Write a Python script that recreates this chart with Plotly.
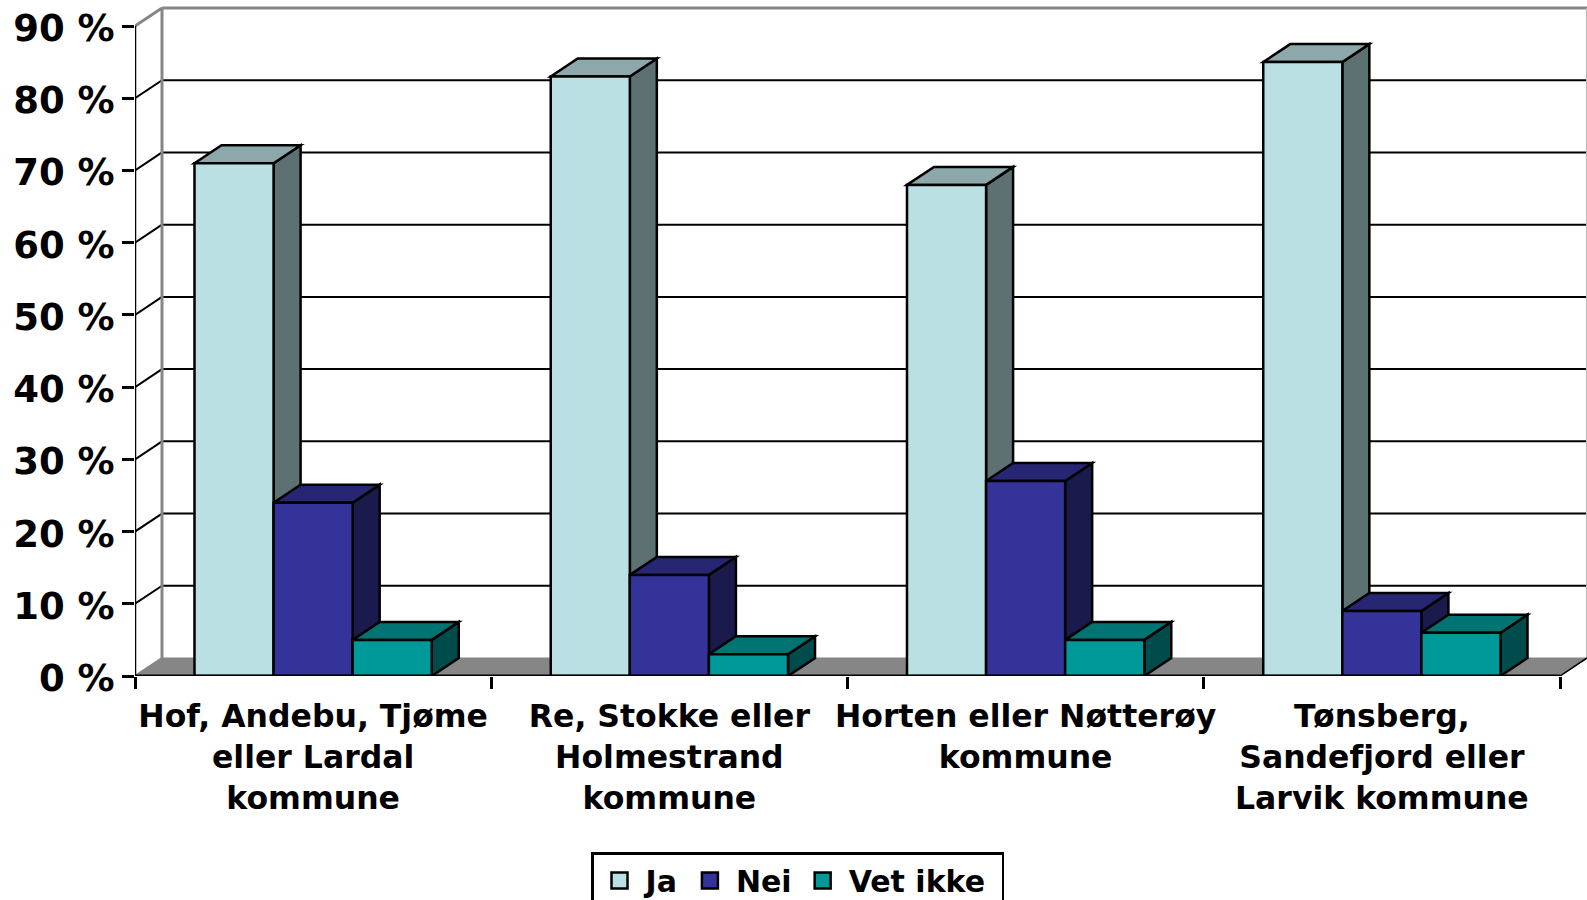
import plotly.graph_objects as go

# ---- data ----
CATEGORIES = ["Hof, Andebu, Tjøme<br>eller Lardal<br>kommune",
              "Re, Stokke eller<br>Holmestrand<br>kommune",
              "Horten eller Nøtterøy<br>kommune",
              "Tønsberg,<br>Sandefjord eller<br>Larvik kommune"]
JA = [71, 83, 68, 85]
NEI = [24, 14, 27, 9]
VET_IKKE = [5, 3, 5, 6]
Y_TICKS = [0, 10, 20, 30, 40, 50, 60, 70, 80, 90]
Y_LABELS = ["0 %", "10 %", "20 %", "30 %", "40 %", "50 %", "60 %", "70 %", "80 %", "90 %"]

NAMES = ["Ja", "Nei", "Vet ikke\u00a0"]
COLORS = [(186, 224, 227), (51, 51, 153), (0, 153, 153)]
SERIES = [JA, NEI, VET_IKKE]

# ---- 3-D look (depth of the box in axis units) ----
DX = 27 / 356.25
DY = 18 / 7.22
TOP_PAD = 4 / 7.22
BARGAP = 0.334
BAR_W = (1 - BARGAP) / 3
X_POS = [i + 0.5 for i in range(len(CATEGORIES))]
X_MAX = float(len(CATEGORIES))
Y_MAX = float(Y_TICKS[-1])
FONT = "DejaVu Sans"
WALL = "#868686"


def rgb(c, f=1.0):
    return "rgb(%d,%d,%d)" % tuple(round(v * f) for v in c)


def poly(pts, fill, line="black", width=2.5):
    path = "M " + " L ".join(f"{x},{y}" for x, y in pts) + " Z"
    return dict(type="path", path=path, fillcolor=fill, xref="x", yref="y", layer="between",
                line=dict(color=line, width=width))


def seg(x0, y0, x1, y1, color="black", width=2, layer="between"):
    return dict(type="line", x0=x0, y0=y0, x1=x1, y1=y1, xref="x", yref="y", layer=layer,
                line=dict(color=color, width=width))


shapes = []
# floor
shapes.append(poly([(0, 0), (DX, DY), (X_MAX + DX, DY), (X_MAX, 0)], WALL, line=WALL, width=1))
# back wall grid + diagonals at the left side wall
for t in Y_TICKS[1:-1]:
    shapes.append(seg(DX, t + DY, X_MAX + DX, t + DY))
for t in Y_TICKS[1:-1]:
    shapes.append(seg(0, t, DX, t + DY))
shapes.append(seg(DX, DY, DX, Y_MAX + DY, WALL, 3))
shapes.append(seg(DX, Y_MAX + DY, X_MAX + DX, Y_MAX + DY, WALL, 3))
shapes.append(seg(0, Y_MAX, DX, Y_MAX + DY, WALL, 3))
shapes.append(seg(X_MAX + DX, DY, X_MAX + DX, Y_MAX + DY, "#BBBBBB", 2))
shapes.append(seg(0, 0, DX, DY, WALL, 2))
shapes.append(seg(X_MAX, 0, X_MAX + DX, DY, "black", 1.5))

# side and top faces of every bar, back to front
for gi, xc in enumerate(X_POS):
    for si, vals in enumerate(SERIES):
        v = vals[gi]
        x0 = xc + (si - 1.5) * BAR_W
        x1 = x0 + BAR_W
        shapes.append(poly([(x1, 0), (x1 + DX, DY), (x1 + DX, v + DY), (x1, v)], rgb(COLORS[si], 0.5)))
        shapes.append(poly([(x0, v), (x0 + DX, v + DY), (x1 + DX, v + DY), (x1, v)], rgb(COLORS[si], 0.75)))

# front axis lines
shapes.append(seg(0, 0, 0, Y_MAX, "black", 2.5, "above"))
shapes.append(seg(0, 0, X_MAX, 0, "black", 3, "above"))

fig = go.Figure()
for name, vals, c in zip(NAMES, SERIES, COLORS):
    fig.add_trace(go.Bar(x=X_POS, y=vals, name=name.strip(),
                         marker=dict(color=rgb(c), line=dict(color="black", width=2.5)),
                         showlegend=False, cliponaxis=False))
for name, c in zip(NAMES, COLORS):
    fig.add_trace(go.Scatter(x=[None], y=[None], name=name, mode="markers",
                             marker=dict(symbol="square", size=16, color=rgb(c), line=dict(color="black", width=2.5))))

fig.update_layout(
    width=1587, height=900,
    margin=dict(l=135, r=0, t=4, b=224, autoexpand=False),
    paper_bgcolor="white", plot_bgcolor="white",
    barmode="group", bargap=BARGAP, bargroupgap=0,
    shapes=shapes,
    font=dict(family=FONT, color="black"),
    xaxis=dict(range=[0, X_MAX + DX], tickmode="array", tickvals=X_POS, ticktext=CATEGORIES,
               ticks="outside", ticklen=12, tickcolor="rgba(0,0,0,0)", showgrid=False, zeroline=False,
               showline=False, tickfont=dict(family=FONT, size=31.5, weight=700, color="black"),
               minor=dict(tickmode="array", tickvals=list(range(len(CATEGORIES) + 1)), ticks="outside",
                          ticklen=12, tickwidth=2.5, tickcolor="black", showgrid=False)),
    yaxis=dict(range=[0, Y_MAX + DY + TOP_PAD], tickmode="array", tickvals=Y_TICKS, ticktext=Y_LABELS,
               ticks="outside", ticklen=12, tickwidth=2.5, tickcolor="black", showgrid=False, zeroline=False,
               showline=False, ticklabelshift=2,
               tickfont=dict(family=FONT, size=37, weight=700, color="black")),
    legend=dict(orientation="h", x=(591 - 135) / 1452, xanchor="left", y=(676 - 852) / 672, yanchor="top",
                bgcolor="white", bordercolor="black", borderwidth=2.5, itemwidth=42,
                font=dict(family=FONT, size=30, weight=700, color="black"), tracegroupgap=0),
)

fig.write_html("out.html", config=dict(displayModeBar=False),
               post_script="document.body.style.margin='0';document.body.style.overflow='hidden';")
